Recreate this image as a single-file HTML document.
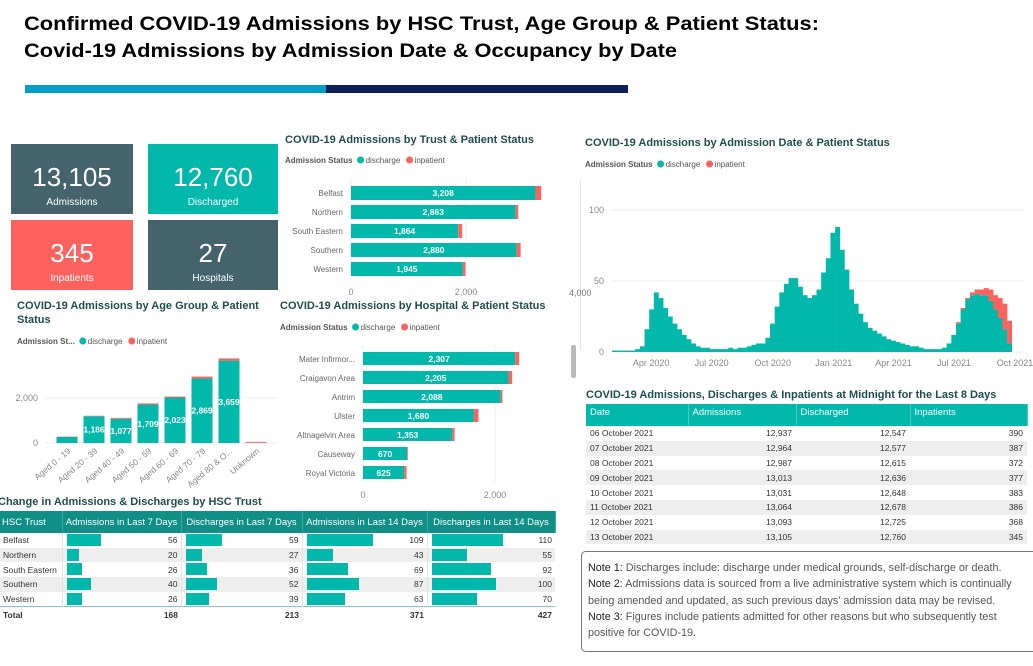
<!DOCTYPE html>
<html><head><meta charset="utf-8">
<style>
*{margin:0;padding:0;box-sizing:border-box}
body{width:1033px;height:666px;overflow:hidden;background:#fff;font-family:"Liberation Sans",sans-serif;position:relative}
.abs{position:absolute}
table{border-collapse:collapse;font-size:9px;color:#333}
td,th{white-space:nowrap;overflow:hidden}
</style></head><body>
<svg id="main" width="1033" height="666" viewBox="0 0 1033 666" xmlns="http://www.w3.org/2000/svg" style="position:absolute;left:0;top:0;font-family:'Liberation Sans',sans-serif">
<text x="24" y="30" font-size="19" font-weight="bold" fill="#000" textLength="795" lengthAdjust="spacingAndGlyphs">Confirmed COVID-19 Admissions by HSC Trust, Age Group &amp; Patient Status:</text>
<text x="24" y="57" font-size="19" font-weight="bold" fill="#000" textLength="653" lengthAdjust="spacingAndGlyphs">Covid-19 Admissions by Admission Date &amp; Occupancy by Date</text>
<rect x="25" y="85" width="301" height="8" fill="#00a0c6"/>
<rect x="326" y="85" width="302" height="8" fill="#0a1f5c"/>

<g><rect x="11" y="144" width="122" height="70" fill="#45636d"/><text x="72" y="186" font-size="26" fill="#fff" text-anchor="middle">13,105</text><text x="72" y="205" font-size="10" fill="#fff" text-anchor="middle">Admissions</text></g>
<g><rect x="148" y="144" width="130" height="70" fill="#01b8aa"/><text x="213" y="186" font-size="26" fill="#fff" text-anchor="middle">12,760</text><text x="213" y="205" font-size="10" fill="#fff" text-anchor="middle">Discharged</text></g>
<g><rect x="11" y="220" width="122" height="70" fill="#fd625e"/><text x="72" y="262" font-size="26" fill="#fff" text-anchor="middle">345</text><text x="72" y="281" font-size="10" fill="#fff" text-anchor="middle">Inpatients</text></g>
<g><rect x="148" y="220" width="130" height="70" fill="#45636d"/><text x="213" y="262" font-size="26" fill="#fff" text-anchor="middle">27</text><text x="213" y="281" font-size="10" fill="#fff" text-anchor="middle">Hospitals</text></g>

<g id="trust"></g>
<g id="hosp"></g>
<g id="age"></g>
<g id="ts"></g>

<text x="569" y="296" font-size="9" fill="#777">4,000</text>
<rect x="571" y="345" width="5" height="33" rx="2" fill="#bbb"/>

<text x="-2" y="505" font-size="11" font-weight="bold" fill="#1f4e4e">Change in Admissions &amp; Discharges by HSC Trust</text>
<text x="586" y="398" font-size="11" font-weight="bold" fill="#1f4e4e">COVID-19 Admissions, Discharges &amp; Inpatients at Midnight for the Last 8 Days</text>

<g font-size="10.8">
<rect x="581.5" y="551.5" width="460" height="100" rx="4" fill="#fff" stroke="#777"/>
<text x="588" y="571" fill="#555"><tspan fill="#222">Note 1:</tspan> Discharges include: discharge under medical grounds, self-discharge or death.</text>
<text x="588" y="587" fill="#555"><tspan fill="#222">Note 2:</tspan> Admissions data is sourced from a live administrative system which is continually</text>
<text x="588" y="604" fill="#555">being amended and updated, as such previous days' admission data may be revised.</text>
<text x="588" y="620" fill="#555"><tspan fill="#222">Note 3:</tspan> Figures include patients admitted for other reasons but who subsequently test</text>
<text x="588" y="636" fill="#555">positive for COVID-19.</text>
</g>
</svg>

<table class="abs" style="left:0;top:511px;width:555px;table-layout:fixed" id="chg">
<colgroup><col style="width:62px"><col style="width:119px"><col style="width:121px"><col style="width:125px"><col style="width:128px"></colgroup>
</table>

<table class="abs" style="left:586px;top:404px;width:441px;table-layout:fixed" id="mid">
<colgroup><col style="width:102px"><col style="width:108px"><col style="width:114px"><col style="width:117px"></colgroup>
</table>

<script>
const NS="http://www.w3.org/2000/svg";
const TEAL="#01b8aa", RED="#fd625e";
function el(parent,tag,attrs,text){const e=document.createElementNS(NS,tag);for(const k in attrs)e.setAttribute(k,attrs[k]);if(text!==undefined)e.textContent=text;parent.appendChild(e);return e;}
function fmt(v){return v.toLocaleString('en-US');}
function legend(g,x,y,label){
  const t=el(g,'text',{x:x,y:y,'font-size':8,fill:'#555','font-weight':'bold'},label);
  let w=label.length*4.6;
  try{w=t.getComputedTextLength();}catch(e){}
  const lx=x+w+8;
  el(g,'circle',{cx:lx,cy:y-3,r:3.5,fill:TEAL});
  el(g,'text',{x:lx+5,y:y,'font-size':8,fill:'#555'},'discharge');
  el(g,'circle',{cx:lx+49,cy:y-3,r:3.5,fill:RED});
  el(g,'text',{x:lx+54,y:y,'font-size':8,fill:'#555'},'inpatient');
}

/* ---- Trust chart ---- */
const trustCats=["Belfast","Northern","South Eastern","Southern","Western"];
const trustDischarge=[3208,2863,1864,2880,1945];
const trustInpatient=[100,45,70,70,45];
const trustTicks=[0,2000];
(function(){
  const g=document.getElementById('trust');
  el(g,'text',{x:285,y:143,'font-size':11,'font-weight':'bold',fill:'#1f4e4e'},'COVID-19 Admissions by Trust & Patient Status');
  legend(g,285,163,'Admission Status');
  const x0=351,sx=115/2000,y0=186,step=19,bh=14;
  const xs=v=>x0+v*sx;
  trustTicks.forEach(t=>{el(g,'line',{x1:xs(t),x2:xs(t),y1:178,y2:280,stroke:'#eee'});el(g,'text',{x:xs(t),y:295,'font-size':9,fill:'#888','text-anchor':'middle'},fmt(t));});
  trustCats.forEach((c,i)=>{
    const y=y0+i*step;
    el(g,'text',{x:343,y:y+10,'font-size':8,fill:'#666','text-anchor':'end'},c);
    const b=el(g,'rect',{x:x0,y:y,width:trustDischarge[i]*sx,height:bh,fill:TEAL});
    
    
    const r=el(g,'rect',{x:xs(trustDischarge[i]),y:y,width:trustInpatient[i]*sx,height:bh,fill:RED});
    
    
    el(g,'text',{x:x0+trustDischarge[i]*sx/2,y:y+10,'font-size':8.5,fill:'#fff','text-anchor':'middle','font-weight':'bold'},fmt(trustDischarge[i]));
  });
})();

/* ---- Hospital chart ---- */
const hospCats=["Mater Infirmor...","Craigavon Area","Antrim","Ulster","Altnagelvin Area","Causeway","Royal Victoria"];
const hospDischarge=[2307,2205,2088,1680,1353,670,625];
const hospInpatient=[60,55,25,70,35,10,35];
const hospTicks=[0,2000];
(function(){
  const g=document.getElementById('hosp');
  el(g,'text',{x:280,y:309,'font-size':11,'font-weight':'bold',fill:'#1f4e4e'},'COVID-19 Admissions by Hospital & Patient Status');
  legend(g,280,330,'Admission Status');
  const x0=363,sx=132/2000,y0=352,step=19,bh=13;
  const xs=v=>x0+v*sx;
  hospTicks.forEach(t=>{el(g,'line',{x1:xs(t),x2:xs(t),y1:345,y2:482,stroke:'#eee'});el(g,'text',{x:xs(t),y:498,'font-size':9,fill:'#888','text-anchor':'middle'},fmt(t));});
  hospCats.forEach((c,i)=>{
    const y=y0+i*step;
    el(g,'text',{x:355,y:y+10,'font-size':8,fill:'#666','text-anchor':'end'},c);
    const b=el(g,'rect',{x:x0,y:y,width:hospDischarge[i]*sx,height:bh,fill:TEAL});
    
    
    const r=el(g,'rect',{x:xs(hospDischarge[i]),y:y,width:hospInpatient[i]*sx,height:bh,fill:RED});
    
    
    el(g,'text',{x:x0+hospDischarge[i]*sx/2,y:y+10,'font-size':8.5,fill:'#fff','text-anchor':'middle','font-weight':'bold'},fmt(hospDischarge[i]));
  });
})();

/* ---- Age chart ---- */
const ageCats=["Aged 0 - 19","Aged 20 - 39","Aged 40 - 49","Aged 50 - 59","Aged 60 - 69","Aged 70 - 79","Aged 80 & O...","Unknown"];
const ageDischarge=[270,1186,1077,1709,2023,2869,3659,10];
const ageInpatient=[15,25,40,50,40,80,100,40];
const ageLabels=[false,true,true,true,true,true,true,false];
const ageTicks=[0,2000];
(function(){
  const g=document.getElementById('age');
  el(g,'text',{x:17,y:309,'font-size':11,'font-weight':'bold',fill:'#1f4e4e'},'COVID-19 Admissions by Age Group & Patient');
  el(g,'text',{x:17,y:323,'font-size':11,'font-weight':'bold',fill:'#1f4e4e'},'Status');
  legend(g,17,344,'Admission St...');
  const base=443,sy=45/2000,x0=67,step=27,bw=21;
  const ys=v=>base-v*sy;
  ageTicks.forEach(t=>{el(g,'line',{x1:45,x2:277,y1:ys(t),y2:ys(t),stroke:'#eee'});el(g,'text',{x:38,y:ys(t)+3,'font-size':9,fill:'#888','text-anchor':'end'},fmt(t));});
  ageCats.forEach((c,i)=>{
    const cx=x0+i*step;
    const b=el(g,'rect',{x:cx-bw/2,y:ys(ageDischarge[i]),width:bw,height:ageDischarge[i]*sy,fill:TEAL});
    
    
    const r=el(g,'rect',{x:cx-bw/2,y:ys(ageDischarge[i]+ageInpatient[i]),width:bw,height:ageInpatient[i]*sy,fill:RED});
    
    
    if(ageLabels[i]) el(g,'text',{x:cx,y:ys(ageDischarge[i]/2)+3,'font-size':8.5,fill:'#fff','text-anchor':'middle','font-weight':'bold'},fmt(ageDischarge[i]));
    el(g,'text',{x:cx+4,y:452,'font-size':8.5,fill:'#888','text-anchor':'end',transform:`rotate(-40 ${cx+4} 452)`},c);
  });
})();

/* ---- Time series (weekly, from week of 2 Feb 2020) ---- */
const tsDischarge=[1,1,1,1, 1,2,4,16,30, 42,38,31,25, 20,16,12,9, 6,4,3,3, 2,2,2,2,3, 2,3,3,4, 5,6,6,10, 20,32,42,48, 52,52,46,40, 38,40,44,56,66, 84,88,72,58, 44,34,27,21, 17,15,13,11, 9,8,7,6, 5,4,4,3,2, 2,2,2,3, 6,12,20,30, 37,40,41,40, 40,36,30,24, 16,6];
const tsInpatient=[0,0,0,0, 0,0,0,0,0, 0,0,0,0, 0,0,0,0, 0,0,0,0, 0,0,0,0,0, 0,0,0,0, 0,0,0,0, 0,0,0,0, 0,0,0,0, 0,0,0,0,0, 0,0,0,0, 0,0,0,0, 0,0,0,0, 0,0,0,0, 0,0,0,0,0, 0,0,0,0, 0,0,1,1, 1,2,3,4, 5,8,10,14, 18,16];
const tsTicksY=[0,50,100];
const tsTickLabels=["Apr 2020","Jul 2020","Oct 2020","Jan 2021","Apr 2021","Jul 2021","Oct 2021"];
const tsTickDays=[59,150,242,334,424,515,607];
(function(){
  const g=document.getElementById('ts');
  el(g,'text',{x:585,y:146,'font-size':11,'font-weight':'bold',fill:'#1f4e4e'},'COVID-19 Admissions by Admission Date & Patient Status');
  legend(g,585,167,'Admission Status');
  el(g,'line',{x1:580.5,x2:580.5,y1:180,y2:350,stroke:'#e6e6e6'});
  const base=352,sy=142/100,d0=612,sd=0.664; // day 0 = 2 Feb 2020
  const ys=v=>base-v*sy, xd=d=>d0+d*sd;
  tsTicksY.forEach(t=>{el(g,'line',{x1:612,x2:1025,y1:ys(t),y2:ys(t),stroke:'#eee'});el(g,'text',{x:604,y:ys(t)+3,'font-size':9,fill:'#888','text-anchor':'end'},t);});
  tsTickLabels.forEach((l,i)=>el(g,'text',{x:xd(tsTickDays[i]),y:366,'font-size':9,fill:'#888','text-anchor':'middle'},l));
  const w=7*sd;
  tsDischarge.forEach((v,i)=>{
    const x=xd(i*7);
    const b=el(g,'rect',{x:x,y:ys(v),width:w+0.3,height:v*sy,fill:TEAL});
    
    
    if(tsInpatient[i]>0){
      const r=el(g,'rect',{x:x,y:ys(v+tsInpatient[i]),width:w+0.3,height:tsInpatient[i]*sy,fill:RED});
      
      
    }
  });
})();

/* ---- Change table ---- */
const chgTrusts=["Belfast","Northern","South Eastern","Southern","Western"];
const adm7=[56,20,26,40,26], dis7=[59,27,36,52,39], adm14=[109,43,69,87,63], dis14=[110,55,92,100,70];
const chgTotals=[168,213,371,427];
(function(){
  const t=document.getElementById('chg');
  const heads=["HSC Trust","Admissions in Last 7 Days","Discharges in Last 7 Days","Admissions in Last 14 Days","Discharges in Last 14 Days"];
  const hr=t.insertRow();
  
  
  hr.style.cssText='background:#0f8f86;color:#fff;height:22px';
  heads.forEach((h,i)=>{const c=document.createElement('th');c.textContent=h;c.style.cssText='font-weight:normal;font-size:9.5px;padding:0 2px;text-align:'+(i?'center':'left')+';border-right:1px solid #3aa9a0';hr.appendChild(c);});
  const cols=[adm7,dis7,adm14,dis14], scale=[34/56,36/59,66/109,71/110];
  chgTrusts.forEach((n,r)=>{
    const tr=t.insertRow();
    
    
    tr.style.cssText='height:14.7px;background:'+(r%2?'#eee':'#fff');
    const c0=tr.insertCell();c0.textContent=n;c0.style.cssText='padding-left:3px;font-size:8.5px';
    cols.forEach((arr,k)=>{
      const c=tr.insertCell();
      c.style.cssText='position:relative;text-align:right;padding-right:3px;font-size:8.5px;border-left:1px solid #e4e4e4';
      const bar=document.createElement('div');
      
      
      bar.style.cssText=`position:absolute;left:4px;top:1px;height:12px;width:${arr[r]*scale[k]}px;background:${TEAL}`;
      c.appendChild(bar);
      c.appendChild(document.createTextNode(arr[r]));
    });
  });
  const tr=t.insertRow();
  
  
  tr.style.cssText='height:17px;border-top:1.5px solid #7cc;font-weight:bold';
  const c0=tr.insertCell();c0.textContent='Total';c0.style.cssText='padding-left:3px;font-size:8.5px';
  chgTotals.forEach(v=>{const c=tr.insertCell();c.textContent=v;c.style.cssText='text-align:right;padding-right:3px;font-size:8.5px';});
})();

/* ---- Midnight table ---- */
const midDates=["06 October 2021","07 October 2021","08 October 2021","09 October 2021","10 October 2021","11 October 2021","12 October 2021","13 October 2021"];
const midAdm=[12937,12964,12987,13013,13031,13064,13093,13105];
const midDis=[12547,12577,12615,12636,12648,12678,12725,12760];
const midInp=[390,387,372,377,383,386,368,345];
(function(){
  const t=document.getElementById('mid');
  const hr=t.insertRow();
  
  
  hr.style.cssText='background:#01b8aa;color:#fff;height:22px;vertical-align:top';
  ["Date","Admissions","Discharged","Inpatients"].forEach(h=>{const c=document.createElement('th');c.textContent=h;c.style.cssText='font-weight:normal;font-size:9.5px;text-align:left;padding:3px 4px 0;border-right:1px solid #4cc9be';hr.appendChild(c);});
  midDates.forEach((d,r)=>{
    const tr=t.insertRow();
    
    
    tr.style.cssText='height:14.8px;background:'+(r%2?'#eee':'#fff');
    [d,fmt(midAdm[r]),fmt(midDis[r]),midInp[r]].forEach((v,k)=>{const c=tr.insertCell();c.textContent=v;c.style.cssText='font-size:8.5px;padding:0 4px;text-align:'+(k?'right':'left');});
  });
})();
</script>
</body></html>
